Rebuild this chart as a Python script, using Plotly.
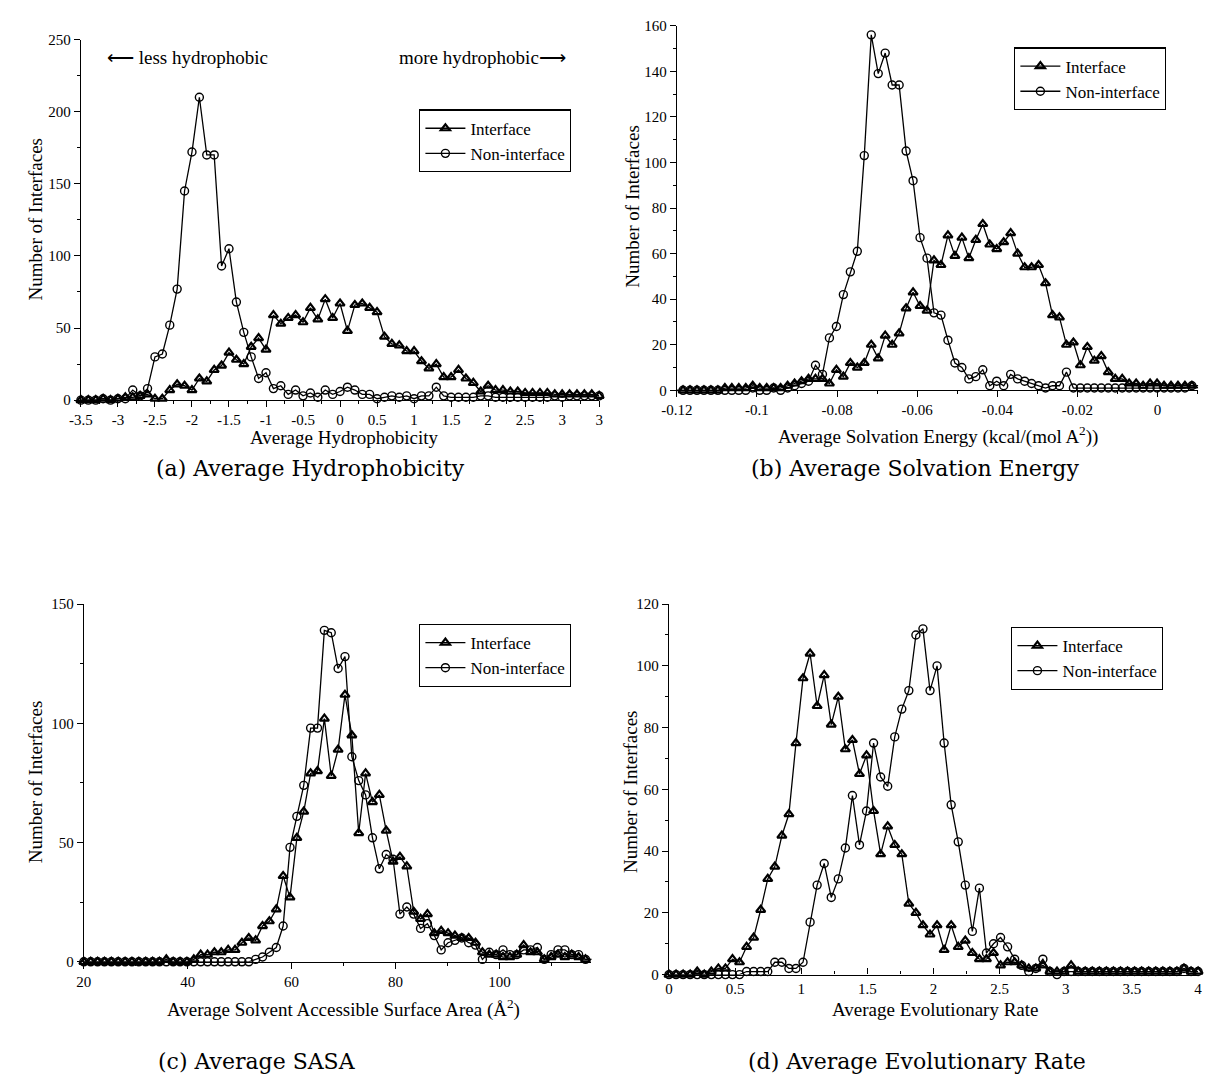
import numpy as np
import plotly.graph_objects as go

W, H = 1207, 1091

# ---------------- data ----------------
# (a) Average Hydrophobicity, bins -3.5 .. 3.5 step 0.1
hyd_start, hyd_step, hyd_count = -3.5, 0.1, 71
hyd_interface = [0, 0, 0, 1, 0, 1, 2, 2, 3, 4, 1, 1, 7, 11, 10, 7, 15, 13, 21, 24,
                 33, 28, 25, 37, 43, 35, 59, 53, 57, 59, 54, 64, 56, 70, 57, 67, 48, 66, 67, 64,
                 61, 44, 39, 38, 34, 34, 27, 22, 25, 16, 16, 21, 15, 12, 6, 10, 7, 7, 6, 6,
                 5, 5, 5, 5, 4, 4, 4, 4, 4, 4, 3]
hyd_noninterface = [0, 0, 0, 1, 0, 1, 1, 7, 3, 8, 30, 32, 52, 77, 145, 172, 210, 170, 170, 93,
                    105, 68, 47, 30, 15, 19, 8, 10, 4, 7, 3, 5, 2, 7, 4, 6, 9, 7, 4, 4,
                    1, 2, 3, 2, 3, 1, 3, 3, 9, 3, 2, 2, 2, 2, 3, 3, 2, 2, 2, 2,
                    2, 2, 2, 2, 3, 2, 3, 3, 3, 3, 3]
hyd_tickvals = [-3.5, -3, -2.5, -2, -1.5, -1, -0.5, 0, 0.5, 1, 1.5, 2, 2.5, 3, 3.5]
hyd_ticktext = ["-3.5", "-3", "-2.5", "-2", "-1.5", "-1", "-0.5", "0", "0.5", "1", "1.5", "2", "2.5", "3", "3"]

# (b) Average Solvation Energy
solv_start, solv_step, solv_count = -0.1202, 0.00174, 76
solv_interface = [0, 0, 0, 0, 0, 0, 0, 1, 1, 1, 1, 2, 1, 1, 1, 1, 2, 3, 4, 5,
                  5, 5, 3, 9, 6, 12, 10, 12, 20, 14, 24, 20, 25, 36, 43, 37, 35, 57, 55, 68,
                  59, 67, 58, 66, 73, 64, 62, 65, 69, 60, 54, 54, 55, 47, 33, 32, 20, 21, 11, 19,
                  13, 15, 8, 5, 5, 3, 3, 2, 3, 3, 2, 2, 2, 2, 2, 1]
solv_noninterface = [0, 0, 0, 0, 0, 0, 0, 0, 0, 0, 0, 1, 0, 0, 1, 0, 1, 2, 3, 4,
                     11, 7, 23, 28, 42, 52, 61, 103, 156, 139, 148, 134, 134, 105, 92, 67, 58, 34, 33, 22,
                     12, 10, 5, 6, 9, 2, 4, 2, 7, 5, 4, 3, 2, 1, 2, 2, 8, 1, 1, 1,
                     1, 1, 1, 1, 1, 1, 1, 1, 1, 1, 1, 1, 1, 1, 2, 2]
solv_tickvals = [-0.12, -0.1, -0.08, -0.06, -0.04, -0.02, 0]
solv_ticktext = ["-0.12", "-0.1", "-0.08", "-0.06", "-0.04", "-0.02", "0"]

# (c) Average SASA
sasa_start, sasa_step, sasa_count = 20.0, 1.323, 75
sasa_interface = [0, 0, 0, 0, 0, 0, 0, 0, 0, 0, 0, 0, 1, 0, 0, 0, 1,
                  3, 3, 4, 4, 5, 5, 8, 10, 9, 15, 17, 22, 36, 27, 52, 63, 79, 80, 102, 78,
                  89, 112, 95, 54, 79, 67, 70, 55, 42, 44, 40, 21, 18, 20, 12, 13, 12, 11, 10, 10,
                  8, 4, 3, 3, 2, 2, 3, 7, 4, 4, 1, 2, 3, 2, 3, 2, 1, 1]
sasa_noninterface = [0] * 25 + [1, 2, 4, 6, 15, 48, 61, 74, 98, 98, 139, 138, 123, 128, 86, 76, 70, 52, 39, 45,
                                43, 20, 23, 20, 14, 16, 11, 5, 8, 9, 10, 8, 7, 1, 4, 3, 5, 3, 3, 5,
                                5, 6, 1, 3, 5, 5, 3, 3, 1, 1]
sasa_tickvals = [20, 40, 60, 80, 100]
sasa_ticktext = ["20", "40", "60", "80", "100"]

# (d) Average Evolutionary Rate
evo_start, evo_step, evo_count = 0.0, 4 / 75, 76
evo_interface = [0, 0, 0, 0, 1, 0, 1, 2, 2,
                 5, 4, 9, 12, 21, 31, 35, 45, 52, 75, 96, 104, 87, 97, 81, 90, 73, 76, 65, 71,
                 53, 39, 48, 42, 39, 23, 20, 16, 13, 16, 8, 16, 9, 11, 7, 5, 5, 7, 3, 4,
                 4, 3, 2, 2, 3, 1, 1, 1, 3,
                 1, 1, 1, 1, 1, 1, 1, 1, 1, 1, 1, 1, 1, 1, 1, 2, 1, 1]
evo_noninterface = [0, 0, 0, 0, 0, 0, 0, 0, 0, 0, 0, 1,
                    1, 1, 1, 4, 4, 2, 2, 4, 17, 29, 36, 25, 31, 41, 58, 42, 53, 75, 64, 61,
                    77, 86, 92, 110, 112, 92, 100, 75, 55, 43, 29, 14, 28, 7, 10, 12, 9, 5, 3, 1,
                    2, 5, 1, 0, 1, 1,
                    1, 1, 1, 1, 1, 1, 1, 1, 1, 1, 1, 1, 1, 1, 1, 2, 1, 1]
evo_tickvals = [0, 0.5, 1, 1.5, 2, 2.5, 3, 3.5, 4]
evo_ticktext = ["0", "0.5", "1", "1.5", "2", "2.5", "3", "3.5", "4"]

series_names = ["Interface", "Non-interface"]
captions = ["(a) Average Hydrophobicity", "(b) Average Solvation Energy",
            "(c) Average SASA", "(d) Average Evolutionary Rate"]
x_titles = ["Average Hydrophobicity",
            "Average Solvation Energy (kcal/(mol A<sup>2</sup>))",
            "Average Solvent Accessible Surface Area (Å<sup>2</sup>)",
            "Average Evolutionary Rate"]
y_title = "Number of Interfaces"

# ---------------- layout helpers ----------------
SERIF = "Liberation Serif, Times New Roman, serif"
CAPFONT = "DejaVu Serif, serif"


def px(x):
    return x / W


def py(y):
    return 1 - y / H


panels = [
    dict(x=(hyd_start, hyd_step, hyd_count), yi=hyd_interface, yn=hyd_noninterface,
         xd=(66, 593), yd=(32, 398), xr=[-3.5, 3.5], yr=[0, 250], ydt=50, yminor=25,
         tv=hyd_tickvals, tt=hyd_ticktext, xminor=0.25, xminor0=-3.5, xticks="outside",
         leg=(410, 103), xt=(334, 436), yt=(20, 215), cap=(140, 467)),
    dict(x=(solv_start, solv_step, solv_count), yi=solv_interface, yn=solv_noninterface,
         xd=(672, 1202), yd=(18, 388), xr=[-0.12, 0.0101], yr=[0, 160], ydt=20, yminor=10,
         tv=solv_tickvals, tt=solv_ticktext, xminor=0.01, xminor0=-0.12, xticks="outside",
         leg=(1015, 40), xt=(938, 434), yt=(626, 202), cap=(745, 467)),
    dict(x=(sasa_start, sasa_step, sasa_count), yi=sasa_interface, yn=sasa_noninterface,
         xd=(69, 585), yd=(605, 968), xr=[20, 117.7], yr=[0, 150], ydt=50, yminor=25,
         tv=sasa_tickvals, tt=sasa_ticktext, xminor=10, xminor0=20, xticks="outside",
         leg=(410, 625), xt=(333, 1015), yt=(20, 786), cap=(142, 1069)),
    dict(x=(evo_start, evo_step, evo_count), yi=evo_interface, yn=evo_noninterface,
         xd=(664, 1202), yd=(605, 981), xr=[0, 4], yr=[0, 120], ydt=20, yminor=10,
         tv=evo_tickvals, tt=evo_ticktext, xminor=0.25, xminor0=0, xticks="inside",
         leg=(1012, 628), xt=(934, 1016), yt=(625, 796), cap=(742, 1069)),
]

fig = go.Figure()
annotations = []
layout = dict(width=W, height=H, margin=dict(l=0, r=0, t=0, b=0),
              paper_bgcolor="white", plot_bgcolor="white", showlegend=True)

for k, p in enumerate(panels):
    n = k + 1
    sfx = "" if n == 1 else str(n)
    start, step, count = p["x"]
    xs = np.round(start + step * np.arange(count), 6)
    legname = "legend" + sfx
    fig.add_trace(go.Scatter(
        x=xs, y=p["yi"], mode="lines+markers", name=series_names[0],
        line=dict(color="black", width=1.3),
        marker=dict(symbol="triangle-up-open", size=8, color="black", line=dict(width=2.2, color="black")),
        xaxis="x" + sfx, yaxis="y" + sfx, cliponaxis=False, legend=legname))
    fig.add_trace(go.Scatter(
        x=xs, y=p["yn"], mode="lines+markers", name=series_names[1],
        line=dict(color="black", width=1.3),
        marker=dict(symbol="circle-open", size=8, color="black", line=dict(width=1.4, color="black")),
        xaxis="x" + sfx, yaxis="y" + sfx, cliponaxis=False, legend=legname))

    common = dict(showline=True, linecolor="black", linewidth=1.3, showgrid=False, zeroline=False,
                  tickwidth=1.2, tickcolor="black",
                  tickfont=dict(family=SERIF, size=15, color="black"), mirror=False)
    layout["xaxis" + sfx] = dict(
        common, domain=[px(p["xd"][0]), px(p["xd"][1])], range=p["xr"], anchor="y" + sfx,
        ticks=p["xticks"], ticklen=6,
        tickmode="array", tickvals=p["tv"], ticktext=p["tt"],
        minor=dict(tickmode="linear", tick0=p["xminor0"], dtick=p["xminor"], ticks=p["xticks"],
                   ticklen=3, tickcolor="black", showgrid=False))
    layout["yaxis" + sfx] = dict(
        common, domain=[py(p["yd"][1]), py(p["yd"][0])], range=p["yr"], anchor="x" + sfx,
        ticks="outside", ticklen=6,
        tickmode="linear", tick0=0, dtick=p["ydt"],
        minor=dict(tickmode="linear", tick0=0, dtick=p["yminor"], ticks="outside",
                   ticklen=3, tickcolor="black", showgrid=False))
    layout[legname] = dict(
        x=px(p["leg"][0]), y=py(p["leg"][1]), xanchor="left", yanchor="top",
        xref="paper", yref="paper",
        bgcolor="white", bordercolor="black", borderwidth=1.2,
        font=dict(family=SERIF, size=17, color="black"), tracegroupgap=0, itemwidth=40)

    annotations.append(dict(text=x_titles[k], x=px(p["xt"][0]), y=py(p["xt"][1]), xref="paper", yref="paper",
                            showarrow=False, xanchor="center", yanchor="middle",
                            font=dict(family=SERIF, size=19, color="black")))
    annotations.append(dict(text=y_title, x=px(p["yt"][0]), y=py(p["yt"][1]), xref="paper", yref="paper",
                            showarrow=False, xanchor="center", yanchor="middle", textangle=-90,
                            font=dict(family=SERIF, size=19, color="black")))
    annotations.append(dict(text=captions[k], x=px(p["cap"][0]), y=py(p["cap"][1]), xref="paper", yref="paper",
                            showarrow=False, xanchor="left", yanchor="middle",
                            font=dict(family=CAPFONT, size=22, color="black")))

annotations.append(dict(text="⟵ less hydrophobic", x=px(90), y=py(50), xref="paper", yref="paper",
                        showarrow=False, xanchor="left", yanchor="middle",
                        font=dict(family=SERIF, size=19, color="black")))
annotations.append(dict(text="more hydrophobic⟶", x=px(561), y=py(50), xref="paper", yref="paper",
                        showarrow=False, xanchor="right", yanchor="middle",
                        font=dict(family=SERIF, size=19, color="black")))

layout["annotations"] = annotations
fig.update_layout(**layout)
fig.write_html("out.html")
